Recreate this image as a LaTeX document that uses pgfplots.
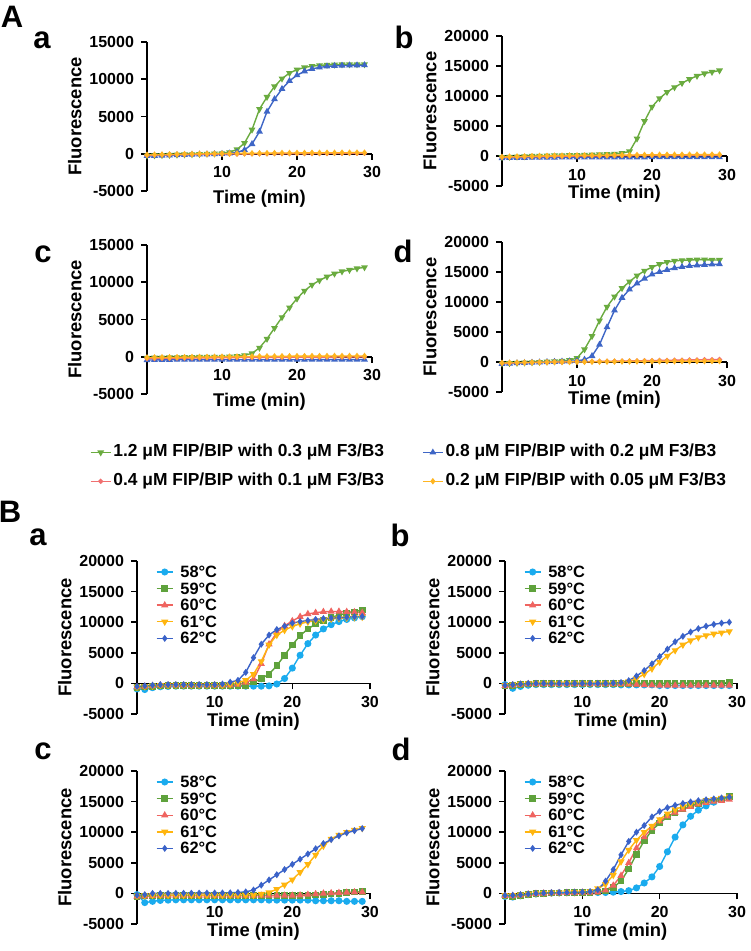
\documentclass[border=0pt]{standalone}
\usepackage{pgfplots}
\pgfplotsset{compat=1.18}
\usepackage{pgfplotstable}
\usepackage{fontspec}
\setmainfont{Liberation Sans}

\definecolor{agreen}{HTML}{6AAB3F}
\definecolor{ablue}{HTML}{3E66C6}
\definecolor{ared}{HTML}{F07070}
\definecolor{aorange}{HTML}{FFB521}
\definecolor{lblue}{HTML}{1AABEE}
\definecolor{bgreen}{HTML}{5FA23C}
\definecolor{bred}{HTML}{EF6460}
\definecolor{borange}{HTML}{FFB50F}
\definecolor{bblue}{HTML}{3A62C8}

% panel A data: 1.2/0.3 (g), 0.8/0.2 (b), 0.4/0.1 (r), 0.2/0.05 (o)
\pgfplotstableread{
t g b r o
0 -250 -300 -200 -150
1 -220 -280 -180 -130
2 -190 -250 -160 -110
3 -160 -220 -140 -90
4 -130 -190 -120 -70
5 -100 -160 -100 -50
6 -70 -130 -90 -30
7 -40 -100 -80 -10
8 -10 -70 -70 0
9 20 -40 -60 10
10 60 -10 -50 20
11 200 50 -40 30
12 570 190 -30 40
13 1430 510 -20 50
14 3230 1300 -10 60
15 6000 2970 0 70
16 7620 5650 0 80
17 9030 7330 10 90
18 10090 8700 10 100
19 10830 9780 20 100
20 11290 10540 20 110
21 11580 11070 20 110
22 11760 11390 30 120
23 11860 11590 30 120
24 11920 11720 30 130
25 11950 11790 40 130
26 11980 11830 40 140
27 12000 11860 40 140
28 12000 11870 50 150
29 12000 11880 50 150
}\tAa
\pgfplotstableread{
t g b r o
0 -200 -350 -200 -150
1 -150 -330 -180 -120
2 -100 -310 -160 -90
3 -50 -300 -140 -60
4 0 -290 -120 -30
5 30 -280 -100 0
6 60 -270 -80 20
7 90 -260 -60 40
8 110 -250 -40 60
9 130 -250 -20 80
10 150 -240 0 90
11 180 -240 10 100
12 210 -230 20 110
13 250 -230 30 120
14 300 -220 40 130
15 370 -220 50 140
16 480 -220 60 150
17 750 -210 70 160
18 2900 -210 80 170
19 5800 -210 90 180
20 8200 -200 100 190
21 9600 -200 100 200
22 10650 -200 110 200
23 11450 -200 110 210
24 12150 -200 120 210
25 12800 -200 120 220
26 13350 -200 130 220
27 13750 -200 130 230
28 14000 -200 140 230
29 14250 -200 140 240
}\tAb
\pgfplotstableread{
t g b r o
0 -150 -450 -250 -100
1 -130 -430 -230 -90
2 -110 -420 -210 -80
3 -90 -410 -200 -70
4 -70 -400 -190 -60
5 -50 -400 -180 -50
6 -40 -400 -170 -40
7 -30 -400 -160 -30
8 -20 -400 -150 -20
9 -10 -400 -140 -10
10 0 -400 -130 0
11 30 -400 -120 10
12 80 -400 -110 20
13 200 -400 -100 30
14 450 -400 -100 40
15 1200 -400 -90 50
16 2400 -400 -90 60
17 3850 -400 -80 60
18 5300 -400 -80 70
19 6600 -400 -70 70
20 7800 -400 -70 80
21 8850 -400 -60 80
22 9650 -390 -60 90
23 10250 -390 -50 90
24 10750 -390 -50 90
25 11150 -390 -40 100
26 11450 -380 -40 100
27 11650 -380 -30 100
28 11850 -380 -30 100
29 12000 -380 -20 100
}\tAc
\pgfplotstableread{
t g b r o
0 -250 -300 -200 -150
1 -200 -250 -170 -130
2 -150 -200 -140 -110
3 -100 -150 -110 -90
4 -50 -100 -80 -70
5 0 -50 -60 -50
6 50 0 -40 -30
7 100 40 -20 -10
8 180 80 0 0
9 300 120 20 10
10 650 200 40 20
11 2100 400 60 30
12 4300 1000 80 40
13 6900 2900 100 50
14 9200 5800 120 60
15 10900 8600 140 70
16 12300 10700 160 80
17 13400 12100 180 90
18 14400 13100 200 100
19 15200 13900 220 100
20 15800 14600 240 110
21 16300 15000 260 110
22 16650 15350 280 120
23 16850 15650 300 120
24 16950 15850 320 130
25 17000 16000 340 130
26 17050 16100 360 140
27 17050 16200 380 140
28 17000 16250 400 150
29 17000 16300 420 150
}\tAd

% panel B data: 58, 59, 60, 61, 62 degrees
\pgfplotstableread{
t a b c d e
0 -900 -700 -600 -600 -500
1 -1000 -600 -500 -500 -400
2 -700 -500 -400 -400 -300
3 -550 -400 -300 -300 -200
4 -500 -350 -300 -300 -200
5 -450 -350 -300 -300 -200
6 -450 -350 -300 -300 -200
7 -450 -350 -300 -300 -200
8 -450 -350 -300 -300 -200
9 -450 -350 -300 -300 -200
10 -450 -350 -300 -300 -200
11 -450 -350 -300 -300 -100
12 -450 -350 -300 -150 200
13 -450 -350 -200 100 500
14 -450 -300 150 500 1800
15 -450 200 700 1500 4200
16 -450 800 3200 3600 6400
17 -400 1500 6400 6300 7900
18 -100 2900 8300 7900 8800
19 800 4600 9400 8700 9350
20 2500 6300 10200 9300 9850
21 4600 7800 10900 9750 10100
22 6500 8900 11350 10050 10280
23 7900 9700 11550 10250 10450
24 8900 10300 11700 10400 10600
25 9600 10800 11750 10520 10680
26 10100 11150 11750 10620 10750
27 10450 11450 11700 10700 10820
28 10700 11700 11650 10780 10900
29 10900 12000 11550 10850 10950
}\tBa
\pgfplotstableread{
t a b c d e
0 -200 -400 -400 -300 -300
1 -800 -300 -300 -200 -200
2 -500 -200 -200 -100 -100
3 -300 -100 -100 0 0
4 -200 0 -100 0 0
5 -200 0 -100 0 0
6 -200 0 -100 0 0
7 -200 0 -100 0 0
8 -200 0 -100 0 0
9 -200 0 -100 0 0
10 -200 0 -100 0 0
11 -200 0 -100 0 0
12 -200 0 -100 0 0
13 -200 0 -100 0 0
14 -200 0 -100 0 50
15 -250 0 -100 100 150
16 -250 0 -150 300 450
17 -250 0 -200 800 1200
18 -250 0 -250 1500 2100
19 -250 0 -300 2400 3200
20 -350 0 -350 3500 4400
21 -350 0 -350 4500 5600
22 -350 20 -350 5400 6800
23 -350 30 -350 6300 7700
24 -350 40 -350 7000 8400
25 -350 50 -350 7500 8950
26 -350 60 -350 7850 9350
27 -350 70 -350 8100 9650
28 -350 80 -350 8300 9850
29 -350 100 -350 8500 10000
}\tBb
\pgfplotstableread{
t a b c d e
0 -200 -500 -500 -400 -300
1 -1500 -450 -450 -350 -200
2 -1300 -400 -400 -300 0
3 -1150 -300 -350 -300 0
4 -1100 -300 -350 -300 0
5 -1050 -300 -350 -300 20
6 -1050 -300 -350 -300 30
7 -1050 -300 -350 -300 40
8 -1050 -300 -350 -300 50
9 -1050 -300 -350 -300 60
10 -1050 -300 -350 -300 70
11 -1050 -300 -350 -300 80
12 -1050 -300 -350 -300 100
13 -1050 -300 -350 -300 150
14 -1050 -300 -350 -300 250
15 -1050 -300 -350 -300 550
16 -1050 -300 -350 -100 1350
17 -1100 -300 -350 150 2200
18 -1100 -300 -350 700 3050
19 -1100 -300 -350 1400 3900
20 -1100 -300 -350 2250 4750
21 -1100 -300 -300 3450 5600
22 -1100 -300 -200 4750 6450
23 -1200 -250 -100 6300 7300
24 -1200 -200 0 7750 8150
25 -1200 -100 50 8900 8800
26 -1200 0 100 9550 9400
27 -1300 100 150 10000 9900
28 -1300 200 200 10350 10250
29 -1300 300 200 10650 10600
}\tBc
\pgfplotstableread{
t a b c d e
0 -500 -400 -400 -300 -300
1 -600 -500 -400 -300 -300
2 -400 -300 -300 -200 -200
3 -200 -150 -150 -100 -100
4 -100 -50 -50 0 0
5 0 0 0 50 50
6 50 50 50 100 100
7 100 80 80 120 120
8 120 100 100 150 150
9 150 120 120 180 180
10 150 150 150 200 200
11 150 150 150 300 300
12 150 200 200 800 600
13 150 400 500 1500 2000
14 200 1000 1300 3000 3900
15 300 2000 2900 5200 6300
16 450 4000 5000 7100 8500
17 900 6400 7400 8700 10000
18 1700 8600 9200 10000 11100
19 2700 10300 10700 11000 12500
20 4400 11500 11800 12100 13400
21 6800 12500 12600 13000 14000
22 9200 13200 13200 13700 14400
23 11200 13800 13700 14200 14700
24 12600 14300 14150 14600 14950
25 13600 14700 14550 14950 15150
26 14300 15000 14800 15200 15300
27 14900 15250 15000 15400 15450
28 15400 15450 15150 15600 15600
29 15800 15800 15350 15800 15750
}\tBd

\pgfplotsset{
  panel/.style={
    scale only axis,
    axis x line=middle, axis y line=left,
    axis line style={-, line width=0.8pt},
    xmin=0, xmax=30, ymin=-5000,
    xtick={10,20,30}, xticklabels={10,20,30},
    scaled y ticks=false, hide obscured y ticks=false,
    tick align=outside, major tick length=3pt,
    tick style={black, line width=0.8pt},
    ticklabel style={font=\bfseries\fontsize{8}{9}\selectfont},
    xlabel={Time (min)}, ylabel={Fluorescence},
    every axis x label/.style={at={(axis description cs:0.5,0)}, anchor=center, yshift=-4pt,
      font=\bfseries\fontsize{9.2}{10}\selectfont},
    every axis y label/.style={at={(axis description cs:0,0.5)}, xshift=-32.5pt, rotate=90,
      anchor=south, inner sep=0pt, font=\bfseries\fontsize{9.2}{10}\selectfont},
    clip=false,
    every axis plot/.append style={line width=0.7pt},
  },
  panelA/.style={panel, width=112.5pt, height=74.5pt},
  panelB/.style={panel, width=116.5pt, height=76.5pt},
  y15/.style={ymax=15000, ytick={-5000,0,5000,10000,15000},
    yticklabels={-5000,0,5000,10000,15000}},
  y20/.style={ymax=20000, ytick={-5000,0,5000,10000,15000,20000},
    yticklabels={-5000,0,5000,10000,15000,20000}},
  sA1/.style={color=agreen, mark=triangle*, mark size=1.3pt, mark options={rotate=180}},
  sA2/.style={color=ablue, mark=triangle*, mark size=1.3pt},
  sA3/.style={color=ared, mark=*, mark size=0.9pt},
  sA4/.style={color=aorange, mark=diamond*, mark size=1.1pt},
  sB1/.style={color=lblue, mark=*, mark size=1.4pt},
  sB2/.style={color=bgreen, mark=square*, mark size=1.3pt},
  sB3/.style={color=bred, mark=triangle*, mark size=1.4pt},
  sB4/.style={color=borange, mark=triangle*, mark size=1.4pt, mark options={rotate=180}},
  sB5/.style={color=bblue, mark=diamond*, mark size=1.2pt},
  bleg/.style={
    legend style={at={(axis description cs:0.08,0.985)}, anchor=north west,
      draw=none, fill=none, inner sep=0pt, row sep=0pt,
      font=\bfseries\fontsize{8.2}{9}\selectfont,
      nodes={inner sep=1pt, text height=5.9pt, text depth=0.4pt},
      /tikz/every odd column/.append style={column sep=2.5pt}},
    legend cell align=left,
    legend image code/.code={\draw[mark repeat=2, mark phase=2, ##1]
      plot coordinates {(0pt,0pt) (4pt,0pt) (8pt,0pt)};},
  },
}

\begin{document}
\begin{tikzpicture}
\useasboundingbox (0pt,0pt) rectangle (375pt,-475.5pt);

% ---------------- A ----------------
\begin{axis}[panelA, y15, at={(73.5pt,-21pt)}, anchor=north west]
\addplot[sA1] table[x=t,y=g]{\tAa};
\addplot[sA2] table[x=t,y=b]{\tAa};
\addplot[sA3] table[x=t,y=r]{\tAa};
\addplot[sA4] table[x=t,y=o]{\tAa};
\end{axis}

\begin{axis}[panelA, y20, height=75pt, at={(251pt,-18pt)}, anchor=north west]
\addplot[sA1] table[x=t,y=g]{\tAb};
\addplot[sA2] table[x=t,y=b]{\tAb};
\addplot[sA3] table[x=t,y=r]{\tAb};
\addplot[sA4] table[x=t,y=o]{\tAb};
\end{axis}

\begin{axis}[panelA, y15, at={(73.5pt,-122.5pt)}, anchor=north west,
  legend columns=2,
  legend style={at={(axis description cs:-0.255,-0.32)}, anchor=north west,
    draw=none, fill=none, inner sep=0pt, row sep=4pt,
    font=\bfseries\fontsize{8.7}{9}\selectfont,
    nodes={inner sep=1pt, text height=6.4pt, text depth=2pt},
    /tikz/every even column/.append style={column sep=18pt}},
  legend cell align=left,
  legend image code/.code={\draw[mark repeat=2, mark phase=2, #1]
    plot coordinates {(0pt,0pt) (5pt,0pt) (10pt,0pt)};}]
\addplot[sA1] table[x=t,y=g]{\tAc};
\addlegendentry{1.2 μM FIP/BIP with 0.3 μM F3/B3}
\addplot[sA2] table[x=t,y=b]{\tAc};
\addlegendentry{0.8 μM FIP/BIP with 0.2 μM F3/B3}
\addplot[sA3] table[x=t,y=r]{\tAc};
\addlegendentry{0.4 μM FIP/BIP with 0.1 μM F3/B3}
\addplot[sA4] table[x=t,y=o]{\tAc};
\addlegendentry{0.2 μM FIP/BIP with 0.05 μM F3/B3}
\end{axis}

\begin{axis}[panelA, y20, height=75pt, at={(251pt,-121pt)}, anchor=north west]
\addplot[sA1] table[x=t,y=g]{\tAd};
\addplot[sA2] table[x=t,y=b]{\tAd};
\addplot[sA3] table[x=t,y=r]{\tAd};
\addplot[sA4] table[x=t,y=o]{\tAd};
\end{axis}

% ---------------- B ----------------
\begin{axis}[panelB, y20, bleg, at={(68.5pt,-280.5pt)}, anchor=north west]
\addplot[sB1] table[x=t,y=a]{\tBa}; \addlegendentry{58°C}
\addplot[sB2] table[x=t,y=b]{\tBa}; \addlegendentry{59°C}
\addplot[sB3] table[x=t,y=c]{\tBa}; \addlegendentry{60°C}
\addplot[sB4] table[x=t,y=d]{\tBa}; \addlegendentry{61°C}
\addplot[sB5] table[x=t,y=e]{\tBa}; \addlegendentry{62°C}
\end{axis}

\begin{axis}[panelB, y20, bleg, width=116pt, at={(252.5pt,-280.5pt)}, anchor=north west]
\addplot[sB1] table[x=t,y=a]{\tBb}; \addlegendentry{58°C}
\addplot[sB2] table[x=t,y=b]{\tBb}; \addlegendentry{59°C}
\addplot[sB3] table[x=t,y=c]{\tBb}; \addlegendentry{60°C}
\addplot[sB4] table[x=t,y=d]{\tBb}; \addlegendentry{61°C}
\addplot[sB5] table[x=t,y=e]{\tBb}; \addlegendentry{62°C}
\end{axis}

\begin{axis}[panelB, y20, bleg, at={(68.5pt,-385.5pt)}, anchor=north west]
\addplot[sB1] table[x=t,y=a]{\tBc}; \addlegendentry{58°C}
\addplot[sB2] table[x=t,y=b]{\tBc}; \addlegendentry{59°C}
\addplot[sB3] table[x=t,y=c]{\tBc}; \addlegendentry{60°C}
\addplot[sB4] table[x=t,y=d]{\tBc}; \addlegendentry{61°C}
\addplot[sB5] table[x=t,y=e]{\tBc}; \addlegendentry{62°C}
\end{axis}

\begin{axis}[panelB, y20, bleg, width=116pt, at={(252.5pt,-385.5pt)}, anchor=north west]
\addplot[sB1] table[x=t,y=a]{\tBd}; \addlegendentry{58°C}
\addplot[sB2] table[x=t,y=b]{\tBd}; \addlegendentry{59°C}
\addplot[sB3] table[x=t,y=c]{\tBd}; \addlegendentry{60°C}
\addplot[sB4] table[x=t,y=d]{\tBd}; \addlegendentry{61°C}
\addplot[sB5] table[x=t,y=e]{\tBd}; \addlegendentry{62°C}
\end{axis}

% panel letters
\begin{scope}[every node/.style={font=\bfseries\fontsize{15.5}{16}\selectfont, inner sep=0pt}]
\node at (6pt,-8.5pt) {A};
\node at (21pt,-20pt) {a};
\node at (202pt,-18.5pt) {b};
\node at (21.5pt,-127pt) {c};
\node at (201.5pt,-125.5pt) {d};
\node at (5pt,-256pt) {B};
\node at (19pt,-268.5pt) {a};
\node at (200pt,-267.5pt) {b};
\node at (21.5pt,-375.5pt) {c};
\node at (200.5pt,-374.5pt) {d};
\end{scope}
\end{tikzpicture}
\end{document}
